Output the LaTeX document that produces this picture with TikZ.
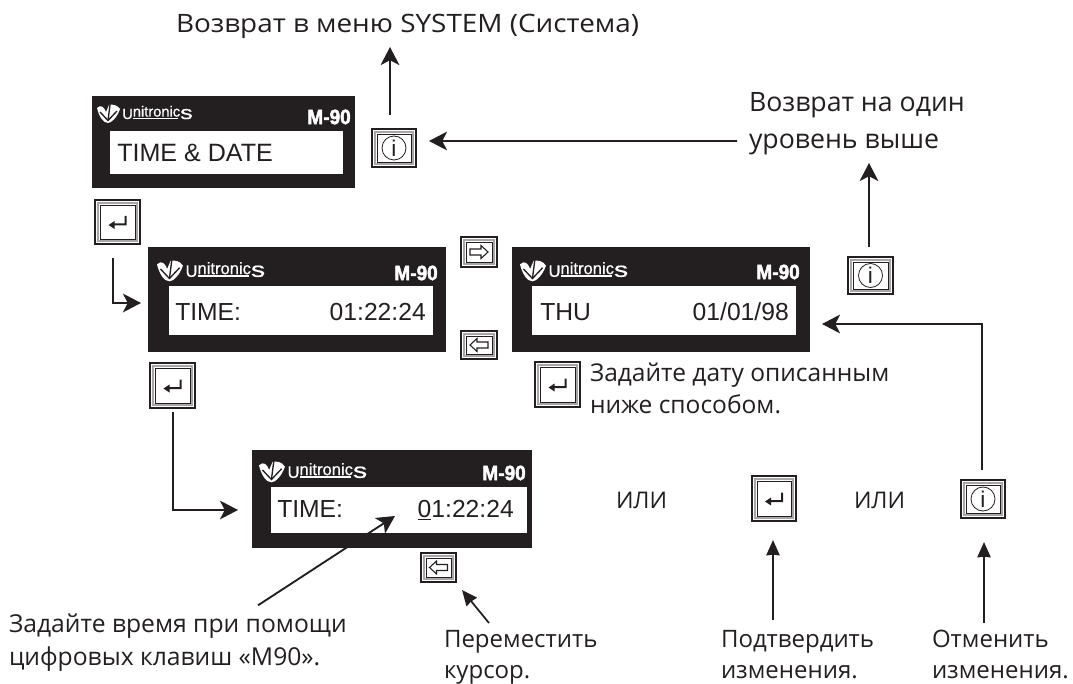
\documentclass[tikz,border=0pt]{standalone}
\usepackage{fontspec}
\setmainfont{Liberation Sans}
\newfontfamily\labelfont{Open Sans}
\newfontfamily\heavyfont[FakeBold=2.4]{Liberation Sans Bold}
\newfontfamily\logofont[FakeBold=0.6]{Liberation Sans}
\usetikzlibrary{arrows.meta,calc}
\definecolor{panelblack}{HTML}{231F20}
\newcommand{\labelstrut}{\rule{0pt}{20pt}}
\tikzset{
  x=0.75pt,y=-0.75pt,
  panelbox/.style={fill=panelblack,draw=none,inner sep=0,outer sep=0},
  lcdbox/.style={fill=white,draw=none,inner sep=0,outer sep=0},
  keybox/.style={fill=white,draw=panelblack,line width=1.1pt,inner sep=0,outer sep=0},
  conn/.style={draw=panelblack,line width=1.4pt,-{Stealth[length=13.5pt,width=14pt,inset=3.5pt]}},
  connthin/.style={draw=panelblack,line width=1.3pt,-{Stealth[length=11.5pt,width=10pt,inset=0.5pt]}},
  lcdtext/.style={font=\fontsize{18.5}{22}\selectfont,text=panelblack,inner sep=0,anchor=base west},
  lbl/.style={text=panelblack,inner sep=0,outer sep=0,align=left,anchor=north west},
}
\newcommand{\panelat}[9]{%
  \node[panelbox,minimum width={(#4-#2)*0.75pt},minimum height={(#5-#3)*0.75pt}] (#1) at ({(#2+#4)/2},{(#3+#5)/2}) {};
  \node[lcdbox,minimum width={(#8-#6)*0.75pt},minimum height={(#9-#7)*0.75pt}] (#1lcd) at ({(#6+#8)/2},{(#7+#9)/2}) {};
}
\newcommand{\logoat}[3]{%
  \begin{scope}[shift={(#1,#2)},scale=#3]
    \fill[white] (0,3) .. controls (4,-1) and (7,2) .. (9,7) -- (12,0) .. controls (16,-1) and (20,0) .. (23,4)
      .. controls (20,13) and (14,18) .. (11,18) .. controls (6,18) and (2,11) .. (0,3) -- cycle;
    \draw[panelblack,line width=1pt] (3,7) -- (11,15.5) -- (20,6);
    \draw[panelblack,line width=1pt] (13,0) -- (11,15.5);
    \node[anchor=base west,inner sep=0,text=white,transform shape,font=\logofont\fontsize{11}{11}\selectfont] at (25,14)
      {\fontsize{11}{11}\selectfont U\raisebox{1.8pt}{\rlap{\rule[-1.8pt]{34pt}{1pt}}nitronic}\scalebox{1.35}[1]{\fontsize{14}{11}\selectfont s}};
  \end{scope}}
\newcommand{\modelat}[2]{%
  \node[anchor=east,inner sep=0,text=white,font=\heavyfont\fontsize{15.5}{15}\selectfont] at (#1,#2) {\scalebox{0.92}[1]{M-90}};}
\newcommand{\keyat}[5]{%
  \node[keybox,minimum width={(#4-#2)*0.75pt},minimum height={(#5-#3)*0.75pt}] (#1) at ({(#2+#4)/2},{(#3+#5)/2}) {};
  \draw[panelblack!40,line width=1.5pt] ($(#1.north west)+(2.6,2.6)$) rectangle ($(#1.south east)+(-2.6,-2.6)$);
  \draw[panelblack,line width=0.7pt] ($(#1.north west)+(5,5)$) rectangle ($(#1.south east)+(-5,-5)$);
}
\newcommand{\enterglyph}[1]{%
  \fill[panelblack] ($(#1)+(-9,3)$) -- ($(#1)+(-3,-1)$) -- ($(#1)+(-3,1.5)$) -- ($(#1)+(7,1.5)$) -- ($(#1)+(7,-6)$) -- ($(#1)+(9,-6)$) -- ($(#1)+(9,3.5)$) -- ($(#1)+(-3,3.5)$) -- ($(#1)+(-3,7)$) -- cycle;}
\newcommand{\infoglyph}[1]{%
  \draw[panelblack,line width=0.6pt] (#1) circle (12);
  \node[inner sep=0,text=panelblack,font=\rmfamily\fontsize{17}{17}\selectfont] at (#1) {i};}
\newcommand{\rightglyph}[1]{%
  \draw[panelblack,line width=0.8pt,line join=miter] ($(#1)+(-9,-3)$) -- ($(#1)+(2,-3)$) -- ($(#1)+(2,-6.5)$) -- ($(#1)+(9,0)$) -- ($(#1)+(2,6.5)$) -- ($(#1)+(2,3)$) -- ($(#1)+(-9,3)$) -- cycle;}
\newcommand{\leftglyph}[1]{%
  \draw[panelblack,line width=0.8pt,line join=miter] ($(#1)+(9,-3)$) -- ($(#1)+(-2,-3)$) -- ($(#1)+(-2,-6.5)$) -- ($(#1)+(-9,0)$) -- ($(#1)+(-2,6.5)$) -- ($(#1)+(-2,3)$) -- ($(#1)+(9,3)$) -- cycle;}
\begin{document}
\begin{tikzpicture}
\useasboundingbox (0,0) rectangle (1073,684);
% panels
\panelat{pa}{92}{96}{355}{188}{110}{131}{343}{174}
\panelat{pb}{148}{247}{446}{352}{169}{286}{433}{335}
\panelat{pc}{512}{247}{810}{352}{532}{286}{796}{335}
\panelat{pd}{252}{450}{532}{548}{271}{487}{527}{533}
\logoat{97}{105}{1}
\logoat{157}{261}{1.13}
\logoat{520}{261}{1.13}
\logoat{259}{462}{1.13}
\modelat{351}{117}
\modelat{438}{273}
\modelat{800}{272}
\modelat{526}{473}
\node[lcdtext,font=\fontsize{18.8}{22}\selectfont] at (117,162) {TIME \& DATE};
\node[lcdtext] at (175,320) {TIME:};
\node[lcdtext,anchor=base east] at (426,320) {01:22:24};
\node[lcdtext] at (540,320) {THU};
\node[lcdtext,anchor=base east] at (789,320) {01/01/98};
\node[lcdtext] at (277,517) {TIME:};
\node[lcdtext,anchor=base east] at (514,517) {\underline{0}1:22:24};
% keys
\keyat{kinfoa}{372}{129}{416}{167}\infoglyph{kinfoa}
\keyat{kenta}{95}{200}{140}{244}\enterglyph{kenta}
\keyat{kright}{461}{237}{497}{267}\rightglyph{kright}
\keyat{kleft}{461}{331}{497}{359}\leftglyph{kleft}
\keyat{kentb}{150}{363}{195}{408}\enterglyph{kentb}
\keyat{kentc}{535}{362}{580}{407}\enterglyph{kentc}
\keyat{kinfob}{848}{257}{893}{294}\infoglyph{kinfob}
\keyat{kleftb}{421}{553}{456}{582}\leftglyph{kleftb}
\keyat{kentd}{752}{476}{796}{521}\enterglyph{kentd}
\keyat{kinfoc}{961}{480}{1005}{518}\infoglyph{kinfoc}
% labels (a node's top lies 26.67 units above its first baseline)
\node[lbl,font=\labelfont\fontsize{19}{24}\selectfont] (lret) at (176,6.33) {\scalebox{1.1}[1]{\labelstrut Возврат в меню SYSTEM (Система)}};
\node[lbl,font=\labelfont\fontsize{20}{27.75}\selectfont] (lup) at (749,85.33) {\labelstrut Возврат на один\\уровень выше};
\node[lbl,font=\labelfont\fontsize{18.4}{24}\selectfont] (lset) at (590,355.33) {\labelstrut Задайте дату описанным\\ниже способом.};
\node[lbl,font=\labelfont\fontsize{17.2}{24}\selectfont] (lor) at (616,481.33) {\labelstrut ИЛИ};
\node[lbl,font=\labelfont\fontsize{17.2}{24}\selectfont] (lorb) at (854,481.33) {\labelstrut ИЛИ};
\node[lbl,font=\labelfont\fontsize{18.5}{24.75}\selectfont] (ltime) at (9,605.33) {\labelstrut Задайте время при помощи\\цифровых клавиш «M90».};
\node[lbl,font=\labelfont\fontsize{18}{23.25}\selectfont] (lmove) at (444,620.33) {\labelstrut Переместить\\курсор.};
\node[lbl,font=\labelfont\fontsize{18}{23.25}\selectfont] (lconf) at (721,620.33) {\labelstrut Подтвердить\\изменения.};
\node[lbl,font=\labelfont\fontsize{18}{23.25}\selectfont] (lcanc) at (932,620.33) {\labelstrut Отменить\\изменения.};
% connectors
\draw[conn] ([shift={(-4,-14)}]kinfoa.north) -- ([shift={(214,40.67)}]lret.north west);
\draw[conn] ([shift={(-12,55.67)}]lup.north west) -- ([shift={(13,-7)}]kinfoa.east);
\draw[conn] ([shift={(-1.5,-10)}]kinfob.north) -- ([shift={(120,77.67)}]lup.north west);
\draw[conn] ([shift={(-4.5,14)}]kenta.south) |- ([shift={(-7,3.5)}]pb.west);
\draw[conn] ([shift={(0.5,4)}]kentb.south) |- ([shift={(-14,11)}]pd.west);
\draw[conn] ([shift={(-1,-10)}]kinfoc.north) |- ([shift={(12,24.5)}]pc.east);
\draw[conn] ([shift={(249,0)}]ltime.north west) -- ([shift={(124,-17)}]pdlcd.south west);
\draw[connthin] ([shift={(45,2.67)}]lmove.north west) -- ([shift={(6,8)}]kleftb.south east);
\draw[connthin] ([shift={(52,0)}]lconf.north west) -- ([shift={(-1,19)}]kentd.south);
\draw[connthin] ([shift={(52,2.67)}]lcanc.north west) -- ([shift={(1,24)}]kinfoc.south);
\end{tikzpicture}
\end{document}
